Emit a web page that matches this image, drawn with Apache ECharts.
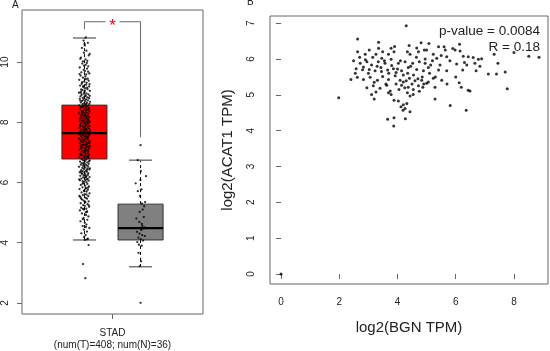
<!DOCTYPE html>
<html>
<head>
<meta charset="utf-8">
<script src="https://cdn.jsdelivr.net/npm/echarts@6/dist/echarts.min.js"></script>
<style>
  html, body { margin: 0; padding: 0; background: #fff; }
  #chart { width: 550px; height: 351px; }
</style>
</head>
<body>
<div id="chart"></div>
<script>
// ---- panel A: boxplot of ACAT1 in STAD (tumor vs normal) ----
const boxNames = ['Tumor', 'Normal'];
// [lower whisker, Q1, median, Q3, upper whisker]
const boxStats = [
  [4.09, 6.78, 7.64, 8.57, 10.8],
  [3.2, 4.09, 4.48, 5.28, 6.74]
];
const boxColors = ['#ff0000', '#808080'];
const yTicksA = [2, 4, 6, 8, 10];

// jittered points: [jitter, log2 value]
const tumorPoints = [
  [0.8,10.82],[-0.5,10.71],[1.9,10.64],[0.2,10.55],[-1.4,10.47],[1.1,10.38],[-0.3,10.31],[2.4,10.22],[-1.9,10.15],[0.6,10.09],
  [1.6,10.04],[-0.9,10.02],[-2.3,10.11],[2.9,10.27],[0.1,10.6],
  [-1.2,9.95],[0.7,9.91],[2.1,9.86],[-2.6,9.82],[1.4,9.78],[-0.4,9.74],[0.3,9.7],[-1.7,9.66],[2.7,9.62],[1.0,9.59],
  [-2.1,9.55],[0.5,9.52],[-0.8,9.48],[1.8,9.45],[-2.9,9.41],[2.3,9.38],[-0.1,9.35],[1.2,9.31],[-1.5,9.28],[0.9,9.25],
  [-2.4,9.22],[2.6,9.19],[-0.6,9.16],[0.4,9.13],[1.7,9.1],[-1.1,9.07],[3.0,9.04],[-2.0,9.02],[0.0,9.0],[1.3,9.97],
  [-0.2,9.88],[2.0,9.68],[-2.7,9.6],[0.8,9.43],[-1.3,9.33],[2.8,9.27],[-0.7,9.2],[1.5,9.15],[-1.8,9.09],[0.2,9.05],
  [-3.0,8.98],[1.1,8.96],[-0.3,8.95],[2.2,8.93],[-1.6,8.91],[0.6,8.9],[2.9,8.88],[-2.2,8.86],[0.0,8.85],[1.6,8.83],
  [-0.9,8.81],[2.5,8.8],[-2.6,8.78],[0.9,8.76],[-0.5,8.75],[1.9,8.73],[-1.3,8.71],[0.3,8.7],[3.1,8.68],[-2.0,8.66],
  [1.3,8.65],[-0.1,8.63],[2.7,8.61],[-1.0,8.6],[0.7,8.58],[-2.8,8.56],[2.0,8.55],[-0.6,8.53],[1.0,8.51],[-1.9,8.5],
  [0.4,8.48],[2.4,8.46],[-2.4,8.45],[1.7,8.43],[-0.2,8.41],[0.8,8.4],[-1.5,8.38],[2.8,8.36],[-0.8,8.35],[1.2,8.33],
  [-2.9,8.31],[0.1,8.3],[2.1,8.28],[-1.2,8.26],[0.5,8.25],[-2.1,8.23],[1.5,8.21],[-0.4,8.2],[2.6,8.18],[-1.7,8.16],
  [0.9,8.15],[-0.7,8.13],[1.8,8.11],[-2.5,8.1],[0.2,8.08],[2.3,8.06],[-1.1,8.05],[1.4,8.03],[-0.3,8.02],[3.0,8.01],
  [-1.8,8.97],[0.6,8.87],[-2.3,8.72],[1.1,8.62],[-0.9,8.52],[2.2,8.42],[-1.4,8.32],[0.3,8.22],[1.9,8.12],[-2.7,8.04],
  [0.4,7.99],[-1.6,7.97],[2.1,7.96],[-0.2,7.94],[1.3,7.93],[-2.4,7.91],[0.8,7.9],[2.8,7.88],[-1.0,7.87],[0.1,7.85],
  [1.7,7.84],[-2.9,7.82],[-0.5,7.81],[2.4,7.79],[0.9,7.78],[-1.8,7.76],[1.2,7.75],[-0.8,7.73],[3.1,7.72],[0.2,7.7],
  [-2.2,7.69],[1.6,7.67],[-0.1,7.66],[2.0,7.64],[-1.3,7.63],[0.6,7.61],[-2.6,7.6],[2.6,7.58],[-0.6,7.57],[1.0,7.55],
  [-1.9,7.54],[0.3,7.52],[2.2,7.51],[-1.1,7.49],[1.5,7.48],[-3.0,7.46],[0.7,7.45],[-0.4,7.43],[1.9,7.42],[-2.0,7.4],
  [0.0,7.39],[2.9,7.37],[-1.5,7.36],[1.1,7.34],[-0.7,7.33],[2.3,7.31],[-2.5,7.3],[0.5,7.28],[1.4,7.27],[-1.2,7.25],
  [-0.3,7.24],[2.7,7.22],[0.9,7.21],[-2.1,7.19],[1.8,7.18],[-0.9,7.16],[0.2,7.15],[-1.7,7.13],[2.5,7.12],[0.8,7.1],
  [-2.8,7.09],[1.2,7.07],[-0.2,7.06],[2.0,7.04],[-1.4,7.03],[0.4,7.01],[1.6,7.98],[-2.3,7.86],[0.0,7.77],[2.5,7.68],
  [-1.0,7.59],[1.3,7.5],[-0.6,7.41],[2.8,7.32],[-1.9,7.23],[0.6,7.14],[-0.1,7.05],[1.7,7.62],[-2.7,7.44],[3.0,7.2],
  [-0.5,6.99],[1.8,6.97],[-2.2,6.95],[0.6,6.94],[2.6,6.92],[-1.2,6.9],[0.1,6.88],[1.4,6.87],[-2.8,6.85],[-0.3,6.83],
  [2.2,6.81],[0.9,6.8],[-1.6,6.78],[1.1,6.76],[-0.8,6.74],[2.9,6.73],[0.3,6.71],[-2.4,6.69],[1.6,6.67],[-0.1,6.66],
  [-1.4,6.64],[2.4,6.62],[0.7,6.6],[-2.0,6.59],[1.2,6.57],[-0.6,6.55],[2.0,6.53],[-3.0,6.52],[0.4,6.5],[-1.1,6.48],
  [1.7,6.46],[-0.2,6.45],[2.7,6.43],[-1.8,6.41],[0.8,6.39],[-0.9,6.38],[1.3,6.36],[-2.6,6.34],[0.0,6.32],[2.1,6.31],
  [-1.3,6.29],[0.5,6.27],[1.9,6.25],[-0.4,6.24],[-2.3,6.22],[1.0,6.2],[2.8,6.18],[-0.7,6.17],[0.2,6.15],[-1.7,6.13],
  [1.5,6.11],[-2.9,6.1],[0.6,6.08],[2.3,6.06],[-1.0,6.04],[-0.1,6.03],[1.1,6.01],[-2.1,6.93],[2.5,6.7],[-0.5,6.58],
  [1.4,6.42],[-1.5,6.3],[0.9,6.19],[-2.5,6.07],[2.0,6.86],[-0.3,6.63],[3.0,6.47],[-1.9,6.35],[0.3,6.23],[1.8,6.12],
  [-0.6,5.98],[1.6,5.95],[-2.0,5.92],[0.4,5.89],[2.5,5.87],[-1.1,5.84],[0.9,5.81],[-2.7,5.78],[1.9,5.76],[-0.2,5.73],
  [1.2,5.7],[-1.6,5.67],[2.8,5.64],[0.1,5.61],[-0.9,5.58],[2.1,5.55],[-2.3,5.52],[0.7,5.49],[1.4,5.46],[-1.3,5.43],
  [-0.4,5.4],[2.3,5.37],[0.5,5.34],[-2.1,5.31],[1.7,5.28],[-0.7,5.25],[0.2,5.22],[2.6,5.19],[-1.8,5.16],[1.0,5.13],
  [-0.3,5.1],[-2.5,5.07],[1.5,5.04],[0.8,5.01],[-1.0,5.96],[2.0,5.83],[-0.1,5.71],[1.1,5.6],[-1.9,5.47],[0.3,5.36],
  [2.4,5.24],[-0.8,5.12],[1.3,5.02],[-2.8,5.55],[0.6,5.8],
  [-1.4,4.97],[0.9,4.92],[2.2,4.87],[-0.5,4.82],[1.6,4.76],[-2.2,4.71],[0.2,4.66],[1.1,4.6],[-1.0,4.55],[2.7,4.49],
  [-0.3,4.43],[1.4,4.37],[-1.7,4.31],[0.6,4.25],[-0.2,4.19],[1.9,4.13],[0.3,4.09],[-0.9,4.78],[0.8,4.52],[1.5,4.11],
  [2.3,3.92],[-0.8,3.29],[0.5,2.82]
];
const normalPoints = [
  [0.0,7.24],[-1.6,6.74],[0.2,6.38],[3.0,6.21],[-0.1,6.08],[-2.7,5.97],[0.5,5.77],[-1.5,5.71],[-0.3,5.55],[0.8,5.3],
  [2.5,5.35],[2.0,5.21],[-0.5,5.02],[1.2,5.1],[1.8,4.85],[-0.7,4.69],[1.0,4.55],[2.2,4.51],[1.6,4.47],[0.4,4.42],
  [-2.0,4.36],[-0.6,4.3],[0.9,4.25],[2.4,4.22],[-1.2,4.17],[0.1,4.12],[1.4,4.07],[-1.8,4.02],[-0.9,3.93],[0.6,3.9],
  [-1.1,3.66],[0.3,3.38],[-0.4,3.22],[0.7,4.62],[-2.3,4.8],[0.0,2.0]
];
// significance bracket: [left y end, top y, right y end]
const bracketY = [11.09, 11.34, 7.5];

// ---- panel B: correlation BGN vs ACAT1 ----
const xTicksB = [0, 2, 4, 6, 8];
const yTicksB = [0, 1, 2, 3, 4, 5, 6, 7];
const corrPoints = [
  [4.3,6.93],[2.63,6.56],[3.35,6.47],[4.81,6.45],[5.08,6.43],
  [3.78,6.3],[4.66,6.31],[4.92,6.25],[5.41,6.34],[5.6,6.34],[5.64,6.25],[5.9,6.29],[6.13,6.41],[6.15,6.22],[5.98,6.25],
  [2.63,6.2],[2.89,6.13],[3.03,6.25],[3.26,6.13],[3.49,6.2],[3.69,6.13],[3.88,6.2],[4.34,6.2],[4.43,6.13],[4.72,6.2],
  [5.0,6.25],[5.23,6.13],[5.35,6.02],[5.69,6.06],[6.26,6.08],[6.43,6.06],[6.6,6.04],[6.78,5.99],[6.89,6.01],[7.32,6.13],
  [8.0,6.18],[8.51,6.08],[8.86,6.05],
  [2.49,5.95],[2.72,5.88],[2.95,5.92],[3.11,5.83],[3.34,5.92],[3.46,6.02],[3.57,5.88],[3.78,5.99],[4.03,5.88],[4.26,5.92],
  [4.52,5.88],[4.75,5.92],[4.95,5.88],[5.14,5.83],[5.46,5.83],[6.03,5.86],[6.38,5.83],[6.66,5.88],[6.83,5.8],[7.45,5.88],
  [2.58,5.73],[2.83,5.78],[3.03,5.71],[3.23,5.67],[3.43,5.76],[3.66,5.69],[3.86,5.73],[3.95,5.62],[4.14,5.67],[4.37,5.76],
  [4.66,5.71],[4.89,5.67],[5.06,5.76],[5.41,5.69],[5.69,5.67],[6.24,5.69],[6.7,5.67],[7.12,5.58],[7.4,5.58],[7.7,5.64],
  [2.4,5.43],[2.62,5.49],[2.83,5.43],[3.06,5.49],[3.31,5.41],[3.49,5.51],[3.69,5.43],[3.92,5.53],[4.09,5.41],[4.2,5.36],
  [4.3,5.39],[4.41,5.46],[4.6,5.39],[4.83,5.41],[5.06,5.36],[5.23,5.46],[5.52,5.41],[6.12,5.34],
  [3.17,5.25],[3.4,5.18],[3.63,5.27],[3.75,5.11],[4.14,5.27],[4.37,5.21],[4.54,5.15],[4.72,5.25],[4.87,5.21],[5.0,5.32],
  [5.29,5.21],[6.19,5.21],[6.43,5.13],[6.49,5.11],[7.77,5.17],
  [3.11,5.01],[3.26,5.08],[3.69,5.06],[3.78,5.01],[4.34,5.06],[4.43,4.97],[4.54,5.01],[4.75,5.1],[1.98,4.92],[3.2,4.88],
  [5.29,4.88],
  [3.88,4.85],[4.03,4.83],[4.2,4.72],[4.12,4.67],[4.26,4.62],[4.19,4.57],[4.43,4.53],[5.81,4.7],[6.36,4.57],[4.32,4.76],
  [3.66,4.32],[3.88,4.36],[3.87,4.13],[4.27,4.33],
  [2.7,6.05],[2.9,5.98],[3.15,6.05],[3.3,5.8],[3.55,5.95],[3.7,5.6],[3.8,5.82],[4.0,5.72],[4.1,5.95],[4.2,5.55],
  [4.35,5.6],[4.45,5.8],[4.55,5.55],[4.65,6.05],[4.85,5.5],[4.95,6.0],[5.1,5.6],[5.2,5.95],[5.3,5.5],[5.5,6.1],
  [3.0,5.6],[3.2,5.35],[3.45,5.65],[3.6,5.3],[3.95,5.3],[4.05,5.15],[4.25,5.2],[4.5,5.3],[4.7,5.45],[4.9,5.3],
  [2.55,5.6],[2.8,5.7],[3.35,6.3],[3.9,6.35],[4.4,6.38],[5.8,5.95],[6.0,5.5],[6.3,5.9],[5.7,5.3],[2.95,5.2],
  [0.0,0.0]
];

// panel A horizontal layout (x axis runs 0..100 across the plot box)
const boxPos = [34.5, 65.5];
const boxWidth = 24.9;
const capWidth = 12.7;

const FONT = '"Liberation Sans", Arial, sans-serif';
const frameColor = '#666';
const textColor = '#222';

const chart = echarts.init(document.getElementById('chart'), null, { renderer: 'canvas' });

function renderBox(params, api) {
  const x = api.value(0);
  const lo = api.coord([x, api.value(1)]);
  const q1 = api.coord([x, api.value(2)]);
  const md = api.coord([x, api.value(3)]);
  const q3 = api.coord([x, api.value(4)]);
  const hi = api.coord([x, api.value(5)]);
  const half = api.size([boxWidth, 0])[0] / 2;
  const capHalf = api.size([capWidth, 0])[0] / 2;
  const cx = lo[0];
  const dashed = { stroke: '#000', lineWidth: 1, lineDash: [3, 3] };
  const cap = { stroke: '#777', lineWidth: 1.5 };
  return {
    type: 'group',
    children: [
      { type: 'line', shape: { x1: cx, y1: q3[1], x2: cx, y2: hi[1] }, style: dashed },
      { type: 'line', shape: { x1: cx, y1: q1[1], x2: cx, y2: lo[1] }, style: dashed },
      { type: 'line', shape: { x1: cx - capHalf, y1: hi[1], x2: cx + capHalf, y2: hi[1] }, style: cap },
      { type: 'line', shape: { x1: cx - capHalf, y1: lo[1], x2: cx + capHalf, y2: lo[1] }, style: cap },
      {
        type: 'rect',
        shape: { x: cx - half, y: q3[1], width: half * 2, height: q1[1] - q3[1] },
        style: { fill: boxColors[api.value(6)], stroke: '#333', lineWidth: 1 }
      },
      { type: 'line', shape: { x1: cx - half, y1: md[1], x2: cx + half, y2: md[1] }, style: { stroke: '#000', lineWidth: 2.2 } }
    ]
  };
}

function renderBracket(params, api) {
  const left = api.coord([api.value(0), api.value(2)]);
  const right = api.coord([api.value(1), api.value(4)]);
  const topY = api.coord([api.value(0), api.value(3)])[1];
  const mid = (left[0] + right[0]) / 2;
  const gap = 7;
  const st = { stroke: '#666', lineWidth: 1 };
  return {
    type: 'group',
    children: [
      { type: 'line', shape: { x1: left[0], y1: left[1], x2: left[0], y2: topY }, style: st },
      { type: 'line', shape: { x1: left[0], y1: topY, x2: mid - gap, y2: topY }, style: st },
      { type: 'line', shape: { x1: mid + gap, y1: topY, x2: right[0], y2: topY }, style: st },
      { type: 'line', shape: { x1: right[0], y1: topY, x2: right[0], y2: right[1] }, style: st },
      {
        type: 'text',
        style: {
          x: mid, y: topY + 5, text: '*', fill: '#ff0000',
          font: '17px ' + FONT, align: 'center', verticalAlign: 'middle'
        }
      }
    ]
  };
}

const tickStyle = { show: true, length: 5, lineStyle: { color: frameColor, width: 1 } };

const option = {
  animation: false,
  backgroundColor: '#fff',
  textStyle: { fontFamily: FONT },
  grid: [
    { left: 22, top: 10, width: 181, height: 304, show: true, borderColor: frameColor, borderWidth: 1, backgroundColor: 'transparent' },
    { left: 270, top: 16, width: 278, height: 268, show: true, borderColor: frameColor, borderWidth: 1, backgroundColor: 'transparent' }
  ],
  xAxis: [
    {
      gridIndex: 0, type: 'value', min: 0, max: 100,
      axisLine: { show: false }, splitLine: { show: false },
      axisTick: Object.assign({ customValues: [50] }, tickStyle),
      axisLabel: {
        customValues: [50], margin: 13, color: textColor, fontSize: 10, lineHeight: 12,
        formatter: () => 'STAD\n(num(T)=408; num(N)=36)'
      }
    },
    {
      gridIndex: 1, type: 'value', min: -0.38, max: 9.17,
      axisLine: { show: false }, splitLine: { show: false },
      axisTick: Object.assign({ customValues: xTicksB }, tickStyle),
      axisLabel: { customValues: xTicksB, margin: 13, color: textColor, fontSize: 10 },
      name: 'log2(BGN TPM)', nameLocation: 'middle', nameGap: 36,
      nameTextStyle: { fontSize: 15, color: textColor, fontFamily: FONT }
    }
  ],
  yAxis: [
    {
      gridIndex: 0, type: 'value', min: 1.63, max: 11.73,
      axisLine: { show: false }, splitLine: { show: false },
      axisTick: Object.assign({ customValues: yTicksA }, tickStyle),
      axisLabel: { customValues: yTicksA, rotate: 90, margin: 12, color: textColor, fontSize: 10 }
    },
    {
      gridIndex: 1, type: 'value', min: -0.28, max: 7.2,
      axisLine: { show: false }, splitLine: { show: false },
      axisTick: Object.assign({ customValues: yTicksB }, tickStyle),
      axisLabel: { customValues: yTicksB, rotate: 90, margin: 14, color: textColor, fontSize: 10 },
      name: 'log2(ACAT1 TPM)', nameLocation: 'middle', nameGap: 35,
      nameTextStyle: { fontSize: 15, color: textColor, fontFamily: FONT }
    }
  ],
  graphic: [
    { type: 'text', left: 12, top: 0, style: { text: 'A', font: '10px ' + FONT, fill: textColor } },
    { type: 'text', left: 247, top: -3, style: { text: 'B', font: '10px ' + FONT, fill: textColor } },
    { type: 'text', right: 10, top: 24, style: { text: 'p-value = 0.0084', font: '13.5px ' + FONT, fill: textColor } },
    { type: 'text', right: 10, top: 40, style: { text: 'R = 0.18', font: '13.5px ' + FONT, fill: textColor } }
  ],
  series: [
    {
      type: 'custom', name: 'box', xAxisIndex: 0, yAxisIndex: 0, z: 2,
      renderItem: renderBox,
      data: boxStats.map((s, i) => [boxPos[i]].concat(s, [i]))
    },
    {
      type: 'scatter', name: boxNames[0], xAxisIndex: 0, yAxisIndex: 0, z: 3,
      symbolSize: 2.3, itemStyle: { color: '#000' }, silent: true,
      data: tumorPoints.map(p => [boxPos[0] + p[0], p[1]])
    },
    {
      type: 'scatter', name: boxNames[1], xAxisIndex: 0, yAxisIndex: 0, z: 3,
      symbolSize: 2.3, itemStyle: { color: '#000' }, silent: true,
      data: normalPoints.map(p => [boxPos[1] + p[0], p[1]])
    },
    {
      type: 'custom', name: 'bracket', xAxisIndex: 0, yAxisIndex: 0, z: 4,
      renderItem: renderBracket,
      data: [[boxPos[0], boxPos[1], bracketY[0], bracketY[1], bracketY[2]]]
    },
    {
      type: 'scatter', name: 'corr', xAxisIndex: 1, yAxisIndex: 1,
      symbolSize: 3, itemStyle: { color: '#000' }, silent: true,
      data: corrPoints
    }
  ]
};

chart.setOption(option);
</script>
</body>
</html>
